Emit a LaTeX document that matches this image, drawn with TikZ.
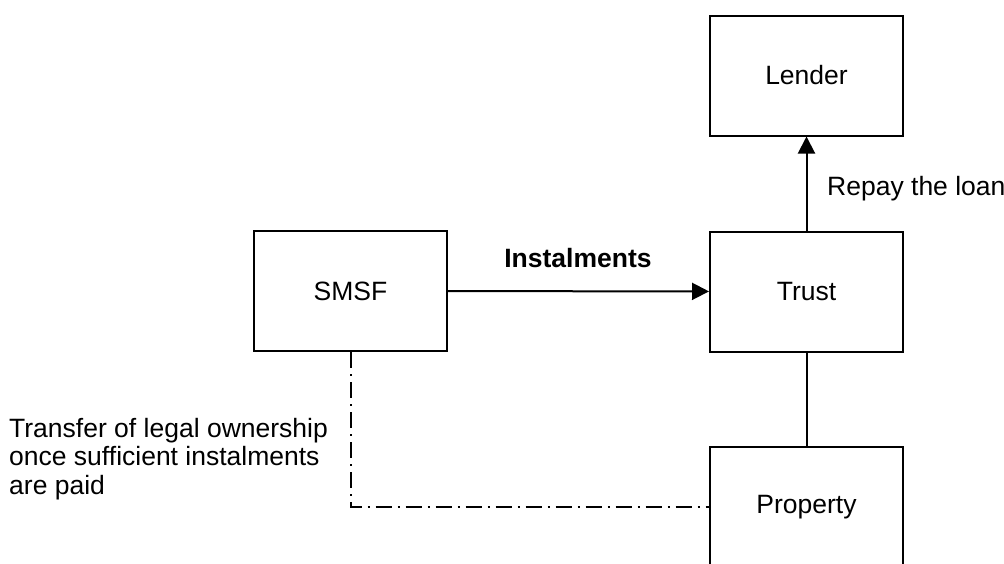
\documentclass[tikz,border=0pt]{standalone}
\usepackage{fontspec}
\setmainfont{Liberation Sans}
\usetikzlibrary{arrows.meta}
\begin{document}
\begin{tikzpicture}[x=1pt,y=-1pt,
  every node/.style={font=\fontsize{26.5}{28.5}\selectfont},
  boxnode/.style={draw,line width=2pt,rectangle,minimum width=193pt,minimum height=120pt,inner sep=0pt},
  arr/.style={line width=2pt,-{Triangle[length=17pt,width=17pt]}},
  conn/.style={line width=2pt},
  dd/.style={line width=2pt,dash pattern=on 16pt off 6pt on 2pt off 6pt}]
\useasboundingbox (0,0) rectangle (1004,563);
\clip (0,0) rectangle (1004,563);
\node[boxnode] (lender) at (806.5,75.5) {Lender};
\node[boxnode] (trust) at (806.5,291.5) {Trust};
\node[boxnode] (smsf) at (350.5,291) {SMSF};
\node[boxnode] (property) at (806.5,507) {Property};
\draw[arr] (trust) -- (lender);
\draw[arr] (smsf) -- (trust);
\draw[conn] (trust) -- (property);
\draw[dd] (smsf.south) |- (property.west);
\node[font=\fontsize{26.5}{28.5}\selectfont\bfseries] (inst) at (578,258) {Instalments};
\node[anchor=west,inner sep=0pt] (repay) at (827,189) {Repay the loan};
\node[anchor=west,align=left,inner sep=0pt] (transfer) at (9,459) {Transfer of legal ownership\\once sufficient instalments\\are paid};
\end{tikzpicture}
\end{document}
